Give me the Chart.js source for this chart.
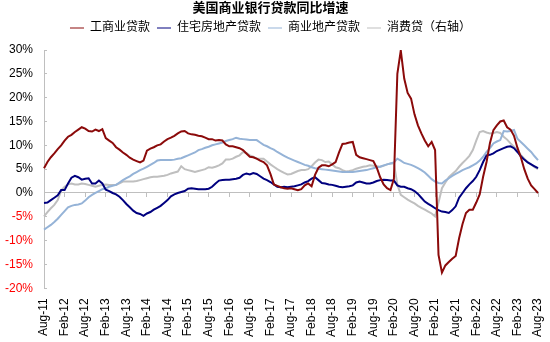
<!DOCTYPE html>
<html>
<head>
<meta charset="utf-8">
<script src="https://cdn.jsdelivr.net/npm/chart.js@4.4.0/dist/chart.umd.min.js"></script>
<style>
  body { margin: 0; background: #fff; }
  #wrap { width: 550px; height: 342px; }
</style>
</head>
<body>
<div id="wrap"><canvas id="myChart" width="550" height="342"></canvas></div>
<script>
// monthly points, Aug-11 .. Aug-23
const monthNames = ['Jan','Feb','Mar','Apr','May','Jun','Jul','Aug','Sep','Oct','Nov','Dec'];
const labels = [];
for (let k = 0; k < 145; k++) {
  const m = (7 + k) % 12;
  const y = 11 + Math.floor((7 + k) / 12);
  labels.push(monthNames[m] + '-' + y);
}

const seriesNames = ['工商业贷款', '住宅房地产贷款', '商业地产贷款', '消费贷（右轴）'];

const ciLoans = [
  5.2,6.5,7.5,8.3,9.2,10.0,11.0,11.8,12.2,12.8,
  13.3,13.8,13.5,13.0,12.9,13.3,13.0,13.4,11.5,11.0,
  10.5,9.6,9.1,8.5,8.0,7.4,7.0,6.7,6.4,6.8,
  8.9,9.3,9.6,10.0,10.2,10.8,11.3,11.6,12.0,12.5,
  12.9,13.0,12.5,12.3,12.2,12.0,11.9,11.6,11.3,11.3,
  11.0,11.1,11.0,10.2,9.8,9.8,9.6,9.4,9.0,8.3,
  7.6,7.5,7.2,6.8,6.5,5.8,4.0,1.8,1.5,1.2,
  1.0,0.9,1.0,0.8,0.6,0.8,1.6,2.0,1.4,3.8,
  5.3,5.8,5.8,5.6,6.0,6.5,8.5,10.3,10.4,10.6,
  10.7,8.0,7.5,7.3,7.1,6.9,6.7,5.3,3.3,1.8,
  1.0,0.6,3.0,25.0,29.9,24.0,21.0,19.8,16.5,14.2,
  12.5,11.0,9.8,10.7,9.0,-13.0,-16.7,-15.2,-14.5,-13.8,
  -13.2,-9.5,-6.5,-4.2,-3.5,-3.5,-2.0,-0.3,3.4,6.5,
  10.5,13.2,14.2,15.0,15.2,13.8,13.3,12.0,9.5,7.5,
  5.0,3.0,1.6,0.8,0.0
];

const resLoans = [
  -2.1,-2.0,-1.5,-1.0,-0.5,0.6,0.6,2.0,3.2,3.6,
  3.3,2.8,3.0,3.1,2.0,2.0,2.6,2.0,0.7,0.4,
  0.0,-0.3,-0.8,-1.5,-2.3,-3.0,-3.7,-4.2,-4.4,-4.8,
  -4.3,-4.0,-3.5,-3.1,-2.7,-2.1,-1.5,-0.7,-0.3,0.0,
  0.2,0.4,0.9,1.0,0.9,0.8,0.8,0.8,0.9,1.3,
  2.0,2.6,2.7,2.8,2.8,2.9,3.0,3.2,3.8,4.1,
  3.9,4.2,4.0,3.5,3.0,2.7,2.3,1.8,1.3,1.2,
  1.3,1.2,1.3,1.4,1.6,1.8,2.2,2.5,3.0,3.3,
  2.7,2.1,2.0,1.8,1.7,1.5,1.3,1.2,1.3,1.4,
  1.6,2.2,2.4,2.2,2.0,2.0,2.2,2.5,2.7,2.8,
  2.7,2.6,2.6,1.6,1.3,1.3,1.0,0.8,0.4,-0.2,
  -1.0,-1.8,-2.3,-2.7,-3.2,-3.6,-3.9,-4.0,-4.2,-3.6,
  -2.8,-1.0,0.0,1.0,1.8,2.5,3.4,4.8,6.5,7.9,
  8.0,8.3,8.8,9.1,9.4,9.7,9.8,9.4,8.6,7.7,
  7.0,6.4,6.0,5.6,5.2
];

const creLoans = [
  -7.7,-7.2,-6.7,-6.1,-5.4,-4.6,-3.8,-3.0,-2.7,-2.5,
  -2.4,-2.2,-1.6,-0.9,-0.4,0.0,0.4,0.8,1.0,1.3,
  1.5,1.7,2.2,2.7,3.1,3.5,4.0,4.4,4.8,5.1,
  5.5,5.9,6.3,6.8,6.9,6.9,6.9,6.9,7.0,7.2,
  7.3,7.6,7.9,8.2,8.5,9.0,9.2,9.5,9.7,10.0,
  10.2,10.4,10.6,10.9,11.1,11.3,11.6,11.4,11.3,11.2,
  11.1,11.1,11.1,10.6,10.1,9.8,9.4,9.1,8.6,8.2,
  7.8,7.4,7.1,6.8,6.5,6.2,5.9,5.7,5.4,5.2,
  5.1,5.0,4.9,4.8,4.7,4.6,4.5,4.4,4.4,4.4,
  4.4,4.5,4.6,4.7,4.8,5.0,5.2,5.4,5.5,5.8,
  6.0,6.2,6.4,7.2,6.8,6.3,6.1,5.9,5.6,5.2,
  4.8,4.3,3.6,2.9,2.4,2.1,2.0,2.6,3.1,3.6,
  4.0,4.4,4.8,5.1,5.4,5.8,6.2,6.8,7.6,8.6,
  9.4,10.4,10.8,11.1,13.0,12.9,13.0,13.2,11.4,10.7,
  10.0,9.3,8.6,7.7,6.9
];

const consumerLoans = [
  -4.9,-4.0,-3.2,-2.5,-1.5,0.5,1.3,1.8,2.0,1.8,
  1.8,2.0,1.9,1.7,1.5,1.3,1.5,1.7,1.8,1.7,
  1.7,1.7,2.0,2.4,2.4,2.4,2.4,2.5,2.7,2.9,
  3.1,3.3,3.4,3.4,3.5,3.6,3.8,4.1,4.3,4.5,
  5.6,5.0,4.8,4.6,4.4,4.6,4.8,5.0,5.4,5.3,
  5.5,5.8,6.2,7.0,7.0,7.2,7.6,7.9,8.6,8.4,
  7.9,7.6,7.2,7.2,7.2,6.6,6.0,5.5,5.0,4.6,
  4.2,3.9,4.0,4.3,4.6,4.8,4.8,5.0,5.6,6.4,
  7.0,6.9,6.5,6.6,6.0,5.4,5.2,4.8,4.5,4.6,
  4.8,5.1,5.3,5.5,5.6,5.8,5.7,5.6,5.5,5.7,
  6.0,6.2,6.2,1.8,-0.4,-0.9,-1.4,-1.8,-2.2,-2.7,
  -3.1,-3.5,-3.9,-4.3,-4.9,-2.0,1.0,2.2,3.3,4.0,
  4.6,5.5,6.3,7.0,7.8,9.0,11.0,12.8,13.0,12.7,
  12.5,12.6,12.8,12.6,11.8,11.2,10.4,9.7,9.0,8.0,
  7.2,6.5,6.0,5.4,5.0
];

Chart.defaults.font.family = '"Liberation Sans", Arial, "Noto Sans CJK SC", sans-serif';
Chart.defaults.font.size = 12;
Chart.defaults.color = '#000';

const axisGray = '#bfbfbf';

// a bit more room between legend and plot
const legendSpacer = {
  id: 'legendSpacer',
  beforeInit(chart) {
    const origFit = chart.legend.fit;
    chart.legend.fit = function fit() {
      origFit.bind(chart.legend)();
      this.height += 6;
    };
  }
};

const data = {
  labels: labels,
  datasets: [
    { label: seriesNames[0], data: ciLoans, borderColor: '#8b0a0a', backgroundColor: '#8b0a0a', yAxisID: 'y' },
    { label: seriesNames[1], data: resLoans, borderColor: '#00007f', backgroundColor: '#00007f', yAxisID: 'y' },
    { label: seriesNames[2], data: creLoans, borderColor: '#95b3d7', backgroundColor: '#95b3d7', yAxisID: 'y' },
    { label: seriesNames[3], data: consumerLoans, borderColor: '#bfbfbf', backgroundColor: '#bfbfbf', yAxisID: 'y1' }
  ]
};

const config = {
  type: 'line',
  data: data,
  plugins: [legendSpacer],
  options: {
    responsive: false,
    animation: false,
    devicePixelRatio: 1,
    layout: { padding: { left: -9, right: 0, top: 0, bottom: 5 } },
    elements: {
      point: { radius: 0 },
      line: { borderWidth: 2, tension: 0 }
    },
    plugins: {
      title: {
        display: true,
        text: '美国商业银行贷款同比增速',
        color: '#000',
        font: { size: 13, weight: 'bold', lineHeight: 1 },
        padding: { top: 2, bottom: 0 }
      },
      legend: {
        display: true,
        labels: {
          usePointStyle: true,
          pointStyle: 'line',
          pointStyleWidth: 14,
          boxHeight: 12,
          padding: 7,
          color: '#000',
          font: { size: 12 }
        }
      },
      tooltip: { enabled: false }
    },
    scales: {
      x: {
        type: 'category',
        offset: false,
        grid: { display: false, drawTicks: true, tickLength: 10 },
        border: { display: false },
        ticks: {
          autoSkip: false,
          maxRotation: 90,
          minRotation: 90,
          padding: 0,
          color: '#000',
          font: { size: 12, lineHeight: 1 },
          callback: (v, i) => (i % 6 === 0 ? labels[i] : '')
        }
      },
      x2: {
        type: 'category',
        axis: 'x',
        position: { y: 0 },
        offset: false,
        ticks: { display: false, autoSkip: false },
        grid: {
          drawOnChartArea: false,
          tickLength: 4,
          color: (c) => (c.index % 6 === 0 ? axisGray : 'rgba(0,0,0,0)')
        },
        border: { color: axisGray, width: 1 }
      },
      y: {
        position: 'left',
        min: -20,
        max: 30,
        ticks: {
          stepSize: 5,
          padding: 14,
          callback: (v) => v + '%',
          color: (c) => (c.tick.value < 0 ? '#ff0000' : '#000')
        },
        grid: { drawOnChartArea: false, tickLength: -3, color: axisGray },
        border: { color: axisGray, width: 1 }
      },
      y1: {
        position: 'right',
        display: false,
        min: -20,
        max: 30
      }
    }
  }
};

const myChart = new Chart(document.getElementById('myChart'), config);
</script>
</body>
</html>
